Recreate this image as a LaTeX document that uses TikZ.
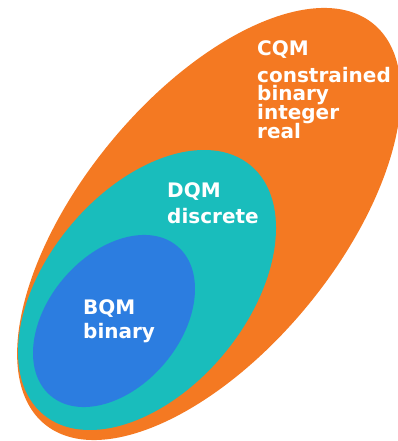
\documentclass[tikz,border=0pt]{standalone}
\usepackage{fontspec}
\setmainfont{DejaVu Sans}
\definecolor{cqmC}{RGB}{244,121,34}
\definecolor{dqmC}{RGB}{25,189,188}
\definecolor{bqmC}{RGB}{44,125,224}
\begin{document}
\begin{tikzpicture}[x=1pt,y=1pt,
  lbl/.style={anchor=base west,inner sep=0pt,text=white,text height=14pt,text depth=0pt,font=\bfseries\fontsize{20pt}{19pt}\selectfont}]
\useasboundingbox (0,0) rectangle (398,441);
\fill[cqmC, rotate around={50.6:(209,217)}] (209,217) ellipse [x radius=259pt, y radius=128pt];
\fill[dqmC, rotate around={50.25:(147,151)}] (147,151) ellipse [x radius=162pt, y radius=100pt];
\fill[bqmC, rotate around={49.6:(114,120)}] (114,120) ellipse [x radius=98pt, y radius=66pt];
\node[lbl] (cqm) at (257,385) {CQM};
\node[lbl] (c1) at (257,358) {constrained};
\node[lbl] (c2) at (257,340) {binary};
\node[lbl] (c3) at (257,321) {integer};
\node[lbl] (c4) at (257,302) {real};
\node[lbl] (dqm) at (167,243) {DQM};
\node[lbl] (d1) at (167,217) {discrete};
\node[lbl] (bqm) at (83,126) {BQM};
\node[lbl] (b1) at (83,102) {binary};
\end{tikzpicture}
\end{document}
